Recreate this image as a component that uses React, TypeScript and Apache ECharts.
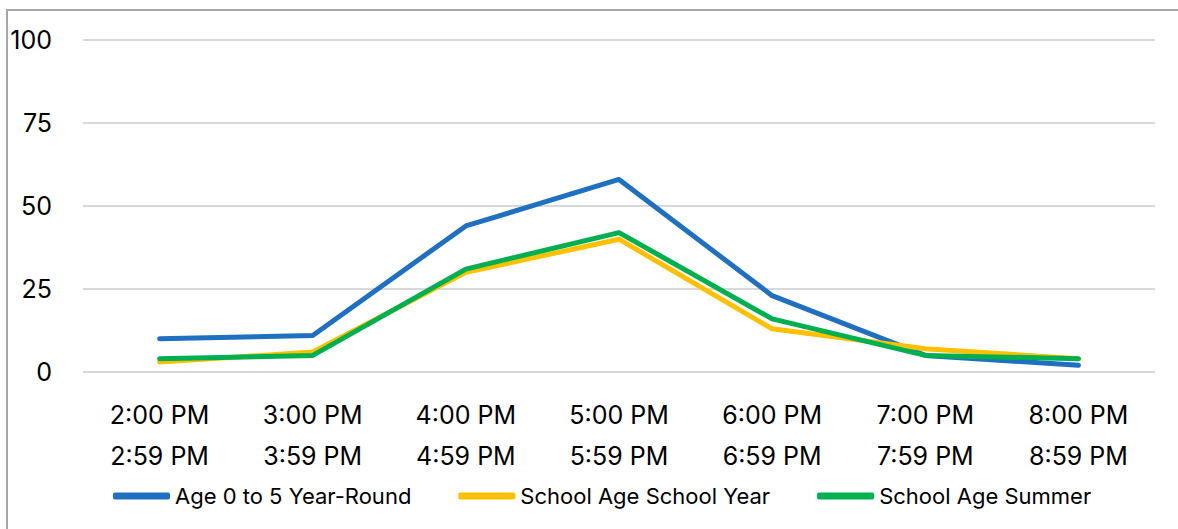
import React, { useEffect, useRef } from "react";
import * as echarts from "echarts";

const categories = [
  "2:00 PM\n2:59 PM",
  "3:00 PM\n3:59 PM",
  "4:00 PM\n4:59 PM",
  "5:00 PM\n5:59 PM",
  "6:00 PM\n6:59 PM",
  "7:00 PM\n7:59 PM",
  "8:00 PM\n8:59 PM",
];
const age0to5 = [10, 11, 44, 58, 23, 5, 2];
const schoolYear = [3, 6, 30, 40, 13, 7, 4];
const summer = [4, 5, 31, 42, 16, 5, 4];
const seriesNames = ["Age 0 to 5 Year-Round", "School Age School Year", "School Age Summer"];
const colors = ["#1F70C1", "#FFC000", "#00B050"];

const FONT = "Inter, 'Noto Sans', sans-serif";

export default function App() {
  const ref = useRef<HTMLDivElement>(null);
  useEffect(() => {
    document.body.style.margin = "0";
    const chart = echarts.init(ref.current!, null, { renderer: "svg" });
    const mk = (name: string, data: number[], color: string) => ({
      name,
      type: "line",
      data,
      symbol: "none",
      lineStyle: { width: 5, color, cap: "round", join: "round" },
      itemStyle: { color },
    });
    chart.setOption({
      animation: false,
      backgroundColor: "#ffffff",
      graphic: [
        {
          type: "rect",
          shape: { x: 7, y: 10, width: 1200, height: 540 },
          style: { fill: "none", stroke: "#A6A6A6", lineWidth: 2 },
          silent: true,
        },
      ],
      grid: { left: 83, right: 23, top: 40, bottom: 157, containLabel: false },
      xAxis: {
        type: "category",
        data: categories,
        boundaryGap: true,
        axisLine: { show: false },
        axisTick: { show: false },
        axisLabel: {
          color: "#000000",
          fontFamily: FONT,
          fontSize: 25,
          lineHeight: 41,
          margin: 22,
        },
      },
      yAxis: {
        type: "value",
        min: 0,
        max: 100,
        interval: 25,
        axisLine: { show: false },
        axisTick: { show: false },
        splitLine: { lineStyle: { color: "#D9D9D9", width: 2 } },
        axisLabel: {
          color: "#000000",
          fontFamily: FONT,
          fontSize: 25,
          margin: 31,
        },
      },
      legend: {
        bottom: 17,
        left: 108,
        icon: "roundRect",
        itemWidth: 57,
        itemHeight: 7,
        itemGap: 47,
        textStyle: { color: "#000000", fontFamily: FONT, fontSize: 22 },
        data: seriesNames,
      },
      series: [
        mk(seriesNames[0], age0to5, colors[0]),
        mk(seriesNames[1], schoolYear, colors[1]),
        mk(seriesNames[2], summer, colors[2]),
      ],
    });
    return () => chart.dispose();
  }, []);
  return <div ref={ref} style={{ width: 1178, height: 529 }} />;
}
